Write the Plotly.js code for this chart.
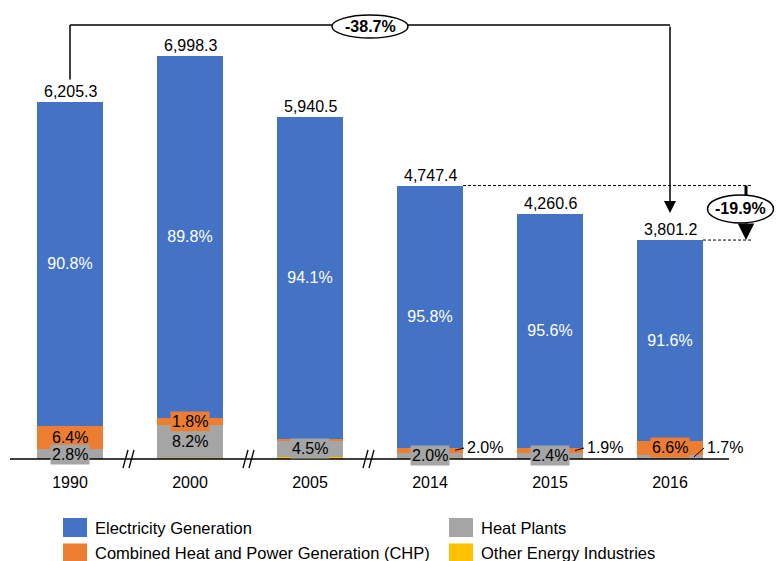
<!DOCTYPE html>
<html><head><meta charset="utf-8">
<script src="https://cdn.plot.ly/plotly-3.0.1.min.js"></script>
<style>html,body{margin:0;padding:0;background:#fff}#chart{width:779px;height:561px}</style>
</head><body><div id="chart"></div>
<script>
// ---- data ----
const years = ['1990', '2000', '2005', '2014', '2015', '2016'];
const totals = [6205.3, 6998.3, 5940.5, 4747.4, 4260.6, 3801.2];
const elecShare = [90.8, 89.8, 94.1, 95.8, 95.6, 91.6];
const chpShare = [6.4, 1.8, 0.7, 2.0, 1.9, 6.6];
const heatShare = [2.8, 8.2, 4.5, 2.0, 2.4, 1.7];
const otherShare = [0.0, 0.2, 0.7, 0.2, 0.1, 0.1];
const seriesNames = ['Electricity Generation', 'Heat Plants', 'Combined Heat and Power Generation (CHP)', 'Other Energy Industries'];
const changeTotal = '-38.7%';
const changeRecent = '-19.9%';

// ---- styling ----
const C_ELEC = '#4472C4', C_CHP = '#ED7D31', C_HEAT = '#A5A5A5', C_OTHER = '#FFC000';
const FONT = 'Liberation Sans, Arial, sans-serif';
const chpLabelMode = ['in', 'in', 'none', 'out', 'out', 'in'];
const heatLabelMode = ['in', 'in', 'in', 'in', 'in', 'out'];

const W = 779, H = 561;
const M = {l: 10, r: 4, t: 5, b: 90};
const XR = [-0.5, 5.875];
const YR = [-208, 7882];
const plotW = W - M.l - M.r, plotH = H - M.t - M.b;
const PX = plotW / (XR[1] - XR[0]);
const PY = plotH / (YR[1] - YR[0]);
const dx = p => p / PX;
const dy = p => p / PY;
const BARW = 0.55;

const seg = (sh) => totals.map((t, i) => t * sh[i] / 100);
const other = seg(otherShare), heat = seg(heatShare), chp = seg(chpShare), elec = seg(elecShare);
const idx = years.map((_, i) => i);

function bar(name, vals, color, extra) {
  return Object.assign({
    type: 'bar', x: years, y: vals, name: name, width: BARW,
    marker: {color: color, line: {width: 0}}, hoverinfo: 'skip', showlegend: false
  }, extra || {});
}
const traces = [
  bar(seriesNames[3], other, C_OTHER),
  bar(seriesNames[1], heat, C_HEAT),
  bar(seriesNames[2], chp, C_CHP),
  bar(seriesNames[0], elec, C_ELEC, {
    text: elecShare.map(v => v.toFixed(1) + '%'), textposition: 'inside',
    insidetextanchor: 'middle', textangle: 0, constraintext: 'none',
    textfont: {family: FONT, size: 16, color: '#ffffff'}
  })
];

const annotations = [];
const shapes = [];
const fmt = v => v.toLocaleString('en-US', {minimumFractionDigits: 1, maximumFractionDigits: 1});

// totals
idx.forEach(i => annotations.push({
  x: i, y: totals[i], xref: 'x', yref: 'y', text: fmt(totals[i]), showarrow: false,
  yanchor: 'bottom', font: {family: FONT, size: 16, color: '#000'}
}));

// CHP and heat labels
idx.forEach(i => {
  const chpMid = other[i] + heat[i] + chp[i] / 2;
  if (chpLabelMode[i] === 'in') {
    annotations.push({x: i, y: chpMid, xref: 'x', yref: 'y', text: chpShare[i].toFixed(1) + '%',
      showarrow: false, bgcolor: C_CHP, borderpad: 1, font: {family: FONT, size: 16, color: '#000'}});
  } else if (chpLabelMode[i] === 'out') {
    shapes.push({type: 'line', xref: 'x', yref: 'y', x0: i + dx(25), y0: chpMid, x1: i + dx(34), y1: dy(11),
      line: {color: '#000', width: 1}});
    annotations.push({x: i + dx(36), y: dy(12), xref: 'x', yref: 'y', text: chpShare[i].toFixed(1) + '%',
      showarrow: false, xanchor: 'left', borderpad: 0, font: {family: FONT, size: 16, color: '#000'}});
  }
});
idx.forEach(i => {
  const heatMid = other[i] + heat[i] / 2;
  if (heatLabelMode[i] === 'in') {
    annotations.push({x: i, y: heatMid, xref: 'x', yref: 'y', text: heatShare[i].toFixed(1) + '%',
      showarrow: false, bgcolor: C_HEAT, borderpad: 1, font: {family: FONT, size: 16, color: '#000'}});
  } else if (heatLabelMode[i] === 'out') {
    shapes.push({type: 'line', xref: 'x', yref: 'y', x0: i + dx(24), y0: heatMid, x1: i + dx(34), y1: dy(11),
      line: {color: '#000', width: 1}});
    annotations.push({x: i + dx(36), y: dy(12), xref: 'x', yref: 'y', text: heatShare[i].toFixed(1) + '%',
      showarrow: false, xanchor: 'left', borderpad: 0, font: {family: FONT, size: 16, color: '#000'}});
  }
});

// baseline
shapes.push({type: 'line', xref: 'x', yref: 'y', x0: -0.5, x1: 5 + dx(59), y0: 0, y1: 0,
  line: {color: '#000', width: 1.5}});
// axis break marks
[0.5, 1.5, 2.5].forEach(b => {
  [[-7, -2], [-1, 4]].forEach(([a, c]) => shapes.push({
    type: 'line', xref: 'x', yref: 'y', xsizemode: 'pixel', xanchor: b, ysizemode: 'pixel', yanchor: 0,
    x0: a, x1: c, y0: -9, y1: 9, line: {color: '#000', width: 1.3}
  }));
});

// long bracket 1990 -> 2016
const last = years.length - 1;
const topY = dy(459 - 25);
shapes.push({type: 'line', xref: 'x', yref: 'y', x0: 0, x1: 0, y0: totals[0] + dy(22), y1: topY, line: {color: '#000', width: 1.5}});
shapes.push({type: 'line', xref: 'x', yref: 'y', x0: 0, x1: last, y0: topY, y1: topY, line: {color: '#000', width: 1.5}});
annotations.push({x: last, y: totals[last] + dy(27), ax: last, ay: topY, xref: 'x', yref: 'y', axref: 'x', ayref: 'y',
  text: '', showarrow: true, arrowhead: 2, arrowsize: 1.6, arrowwidth: 1.5, arrowcolor: '#000'});
shapes.push({type: 'circle', xref: 'x', yref: 'y', xsizemode: 'pixel', ysizemode: 'pixel', xanchor: 2.5, yanchor: topY - dy(1.5),
  x0: -38, x1: 38, y0: -11.5, y1: 11.5, fillcolor: '#fff', line: {color: '#000', width: 1.5}});
annotations.push({x: 2.5, y: topY - dy(1.5), xref: 'x', yref: 'y', text: '<b>' + changeTotal + '</b>', showarrow: false,
  font: {family: FONT, size: 16, color: '#000'}});

// recent change 2014 -> 2016
const xr = last + dx(76);
const xEnd = last + dx(81);
shapes.push({type: 'line', xref: 'x', yref: 'y', x0: 3 + BARW / 2, x1: xEnd, y0: totals[3], y1: totals[3],
  line: {color: '#000', width: 1, dash: '3px,2px'}});
shapes.push({type: 'line', xref: 'x', yref: 'y', x0: last + BARW / 2, x1: xEnd, y0: totals[last], y1: totals[last],
  line: {color: '#000', width: 1, dash: '3px,2px'}});
shapes.push({type: 'line', xref: 'x', yref: 'y', x0: xr, x1: xr, y0: totals[3], y1: totals[3] - dy(10), line: {color: '#000', width: 3}});
annotations.push({x: xr, y: totals[last], ax: xr, ay: totals[last] + dy(18), xref: 'x', yref: 'y', axref: 'x', ayref: 'y',
  text: '', showarrow: true, arrowhead: 2, arrowsize: 1.1, arrowwidth: 3, arrowcolor: '#000'});
const ex = last + dx(70.5), ey = totals[3] - dy(23.4);
shapes.push({type: 'circle', xref: 'x', yref: 'y', xsizemode: 'pixel', ysizemode: 'pixel', xanchor: ex, yanchor: ey,
  x0: -33, x1: 33, y0: -14, y1: 14, fillcolor: '#fff', line: {color: '#000', width: 1.5}});
annotations.push({x: ex, y: ey, xref: 'x', yref: 'y', text: '<b>' + changeRecent + '</b>', showarrow: false,
  font: {family: FONT, size: 16, color: '#000'}});

// manual legend
const pxX = p => (p - M.l) / plotW;
const pxY = p => (H - M.b - p) / plotH;
const legendItems = [
  {name: seriesNames[0], color: C_ELEC, sx: 63, cy: 527.5},
  {name: seriesNames[1], color: C_HEAT, sx: 449, cy: 527.5},
  {name: seriesNames[2], color: C_CHP, sx: 63, cy: 553},
  {name: seriesNames[3], color: C_OTHER, sx: 449, cy: 553}
];
legendItems.forEach(it => {
  shapes.push({type: 'rect', xref: 'paper', yref: 'paper', x0: pxX(it.sx), x1: pxX(it.sx + 24),
    y0: pxY(it.cy - 9.5), y1: pxY(it.cy + 9.5), fillcolor: it.color, line: {width: 0}});
  annotations.push({xref: 'paper', yref: 'paper', x: pxX(it.sx + 30), y: pxY(it.cy), xanchor: 'left', yanchor: 'middle',
    text: it.name, showarrow: false, font: {family: FONT, size: 16.5, color: '#000'}});
});

const layout = {
  width: W, height: H, margin: M, paper_bgcolor: '#fff', plot_bgcolor: '#fff',
  barmode: 'stack', showlegend: false, hovermode: false,
  font: {family: FONT, size: 16, color: '#000'},
  xaxis: {type: 'category', range: XR, showline: false, showgrid: false, zeroline: false, ticks: '',
    tickfont: {family: FONT, size: 16, color: '#000'}, fixedrange: true},
  yaxis: {range: YR, visible: false, showgrid: false, zeroline: false, fixedrange: true},
  shapes: shapes, annotations: annotations
};
Plotly.newPlot('chart', traces, layout, {staticPlot: true, displayModeBar: false});
</script></body></html>
